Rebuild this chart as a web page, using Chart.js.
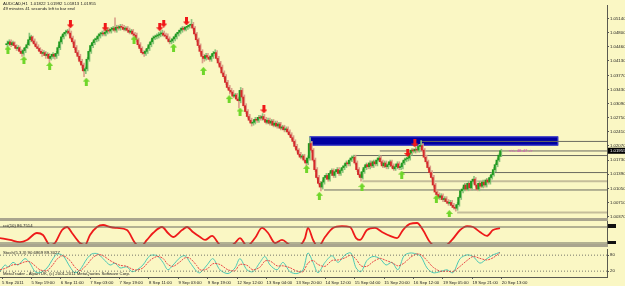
<!DOCTYPE html>
<html>
<head>
<meta charset="utf-8">
<script src="https://cdn.jsdelivr.net/npm/chart.js@4.4.0/dist/chart.umd.min.js"></script>
<style>
html, body { margin: 0; padding: 0; background: #faf7c4; }
#wrap { position: relative; width: 625px; height: 286px; overflow: hidden; background: #faf7c4; }
#wrap canvas { position: absolute; left: 0; }
.sep { position: absolute; left: 0; width: 608px; background: #a9a58e; }
.txt { position: absolute; font-family: 'Liberation Sans', Arial, sans-serif; font-size: 4.3px; line-height: 5px; color: #222; white-space: nowrap; }
</style>
</head>
<body>
<div id="wrap">
  <canvas id="main" width="625" height="222" style="top:0"></canvas>
  <canvas id="cci" width="625" height="28" style="top:219px"></canvas>
  <canvas id="stoch" width="625" height="40" style="top:246px"></canvas>
  <div class="sep" style="top:218px;height:3px"></div>
  <div class="sep" style="top:244px;height:3px"></div>
  <div class="txt" style="left:3px;top:1px">AUDCAD,H1&nbsp; 1.01822 1.01992 1.01813 1.01955</div>
  <div class="txt" style="left:3px;top:6px">49 minutes 41 seconds left to bar end</div>
  <div class="txt" style="left:3px;top:223px">cci(10) 86.7514</div>
  <div class="txt" style="left:3px;top:250px">Stoch(5,3,3) 90.6869 89.3027</div>
  <div class="txt" style="left:3px;top:271px">MetaTrader - Alpari UK, (c) 2001-2011 MetaQuotes Software Corp.</div>
</div>
<script>
// AUDCAD H1, one value per hourly bar, oldest first
const opens = [
  1.0451,1.0453,1.0458,1.0451,1.0456,1.0449,1.0442,1.0444,1.0435,1.0430,
  1.0437,1.0444,1.0451,1.0463,1.0470,1.0460,1.0453,1.0446,1.0442,1.0435,
  1.0430,1.0432,1.0425,1.0428,1.0418,1.0423,1.0428,1.0423,1.0430,1.0444,
  1.0458,1.0470,1.0477,1.0481,1.0484,1.0479,1.0467,1.0458,1.0444,1.0432,
  1.0423,1.0411,1.0402,1.0388,1.0393,1.0416,1.0435,1.0449,1.0456,1.0463,
  1.0465,1.0472,1.0477,1.0479,1.0477,1.0481,1.0486,1.0484,1.0488,1.0491,
  1.0486,1.0493,1.0491,1.0495,1.0493,1.0488,1.0491,1.0486,1.0481,1.0484,
  1.0477,1.0474,1.0463,1.0451,1.0442,1.0432,1.0430,1.0435,1.0442,1.0451,
  1.0458,1.0467,1.0470,1.0472,1.0474,1.0477,1.0479,1.0474,1.0472,1.0465,
  1.0458,1.0460,1.0465,1.0470,1.0477,1.0481,1.0486,1.0491,1.0488,1.0493,
  1.0495,1.0498,1.0500,1.0491,1.0477,1.0463,1.0449,1.0435,1.0423,1.0418,
  1.0425,1.0421,1.0416,1.0423,1.0430,1.0432,1.0418,1.0407,1.0397,1.0383,
  1.0374,1.0360,1.0348,1.0341,1.0337,1.0327,1.0330,1.0320,1.0316,1.0341,
  1.0325,1.0304,1.0290,1.0278,1.0269,1.0262,1.0264,1.0271,1.0269,1.0276,
  1.0274,1.0278,1.0271,1.0264,1.0269,1.0262,1.0267,1.0257,1.0262,1.0255,
  1.0260,1.0250,1.0253,1.0246,1.0248,1.0241,1.0234,1.0227,1.0218,1.0206,
  1.0197,1.0187,1.0180,1.0183,1.0173,1.0166,1.0178,1.0213,1.0197,1.0173,
  1.0150,1.0131,1.0117,1.0108,1.0120,1.0131,1.0136,1.0127,1.0141,1.0148,
  1.0136,1.0145,1.0150,1.0141,1.0148,1.0155,1.0159,1.0166,1.0164,1.0173,
  1.0178,1.0180,1.0166,1.0150,1.0138,1.0131,1.0145,1.0155,1.0162,1.0157,
  1.0166,1.0159,1.0169,1.0164,1.0173,1.0178,1.0169,1.0159,1.0166,1.0157,
  1.0162,1.0169,1.0159,1.0152,1.0157,1.0164,1.0155,1.0157,1.0166,1.0173,
  1.0176,1.0178,1.0190,1.0197,1.0195,1.0199,1.0197,1.0206,1.0208,1.0197,
  1.0180,1.0169,1.0155,1.0143,1.0131,1.0113,1.0096,1.0090,1.0083,1.0087,
  1.0078,1.0080,1.0073,1.0069,1.0071,1.0064,1.0059,1.0057,1.0066,1.0083,
  1.0099,1.0103,1.0113,1.0103,1.0117,1.0106,1.0122,1.0127,1.0113,1.0103,
  1.0117,1.0110,1.0120,1.0113,1.0125,1.0120,1.0131,1.0138,1.0150,1.0162,
  1.0173,1.01822
];
const highs = [
  1.0460,1.0463,1.0463,1.0460,1.0458,1.0451,1.0449,1.0446,1.0439,1.0442,
  1.0446,1.0456,1.0479,1.0474,1.0472,1.0465,1.0458,1.0451,1.0444,1.0439,
  1.0437,1.0435,1.0432,1.0430,1.0428,1.0432,1.0430,1.0435,1.0449,1.0463,
  1.0474,1.0481,1.0486,1.0488,1.0491,1.0484,1.0472,1.0463,1.0449,1.0437,
  1.0428,1.0416,1.0407,1.0397,1.0421,1.0439,1.0453,1.0460,1.0467,1.0470,
  1.0477,1.0481,1.0484,1.0486,1.0486,1.0491,1.0491,1.0493,1.0495,1.0516,
  1.0498,1.0498,1.0500,1.0500,1.0498,1.0495,1.0495,1.0491,1.0488,1.0488,
  1.0481,1.0479,1.0467,1.0456,1.0446,1.0437,1.0439,1.0446,1.0456,1.0463,
  1.0472,1.0474,1.0477,1.0481,1.0484,1.0486,1.0484,1.0479,1.0477,1.0470,
  1.0465,1.0470,1.0474,1.0481,1.0486,1.0491,1.0495,1.0495,1.0495,1.0498,
  1.0500,1.0512,1.0505,1.0495,1.0481,1.0467,1.0453,1.0439,1.0428,1.0430,
  1.0430,1.0425,1.0428,1.0435,1.0439,1.0437,1.0423,1.0411,1.0402,1.0388,
  1.0379,1.0365,1.0353,1.0346,1.0341,1.0334,1.0334,1.0325,1.0348,1.0346,
  1.0330,1.0309,1.0295,1.0283,1.0274,1.0269,1.0276,1.0276,1.0281,1.0281,
  1.0285,1.0283,1.0276,1.0274,1.0274,1.0271,1.0271,1.0267,1.0267,1.0264,
  1.0264,1.0257,1.0257,1.0253,1.0253,1.0246,1.0239,1.0232,1.0222,1.0211,
  1.0201,1.0192,1.0187,1.0187,1.0178,1.0183,1.0227,1.0218,1.0201,1.0178,
  1.0155,1.0136,1.0122,1.0125,1.0136,1.0141,1.0141,1.0145,1.0152,1.0152,
  1.0150,1.0155,1.0155,1.0152,1.0159,1.0164,1.0171,1.0171,1.0178,1.0183,
  1.0185,1.0185,1.0171,1.0155,1.0143,1.0150,1.0159,1.0166,1.0166,1.0171,
  1.0171,1.0173,1.0173,1.0178,1.0185,1.0183,1.0173,1.0171,1.0171,1.0166,
  1.0173,1.0173,1.0164,1.0162,1.0169,1.0169,1.0162,1.0171,1.0178,1.0180,
  1.0180,1.0195,1.0201,1.0201,1.0204,1.0206,1.0211,1.0220,1.0213,1.0201,
  1.0185,1.0173,1.0159,1.0148,1.0136,1.0117,1.0101,1.0094,1.0092,1.0092,
  1.0085,1.0085,1.0078,1.0076,1.0076,1.0069,1.0064,1.0071,1.0087,1.0103,
  1.0108,1.0117,1.0117,1.0122,1.0122,1.0127,1.0134,1.0131,1.0117,1.0122,
  1.0122,1.0125,1.0125,1.0129,1.0129,1.0136,1.0143,1.0155,1.0166,1.0178,
  1.0190,1.01992
];
const lows = [
  1.0446,1.0449,1.0446,1.0449,1.0444,1.0437,1.0437,1.0430,1.0423,1.0425,
  1.0432,1.0442,1.0449,1.0458,1.0456,1.0449,1.0442,1.0437,1.0430,1.0423,
  1.0425,1.0418,1.0421,1.0407,1.0414,1.0418,1.0416,1.0418,1.0425,1.0439,
  1.0453,1.0465,1.0472,1.0477,1.0474,1.0463,1.0453,1.0439,1.0428,1.0416,
  1.0407,1.0395,1.0374,1.0381,1.0388,1.0411,1.0430,1.0444,1.0451,1.0458,
  1.0460,1.0467,1.0472,1.0472,1.0472,1.0477,1.0479,1.0479,1.0484,1.0481,
  1.0481,1.0486,1.0486,1.0488,1.0484,1.0484,1.0481,1.0477,1.0477,1.0472,
  1.0470,1.0458,1.0446,1.0437,1.0428,1.0423,1.0425,1.0430,1.0437,1.0446,
  1.0453,1.0463,1.0465,1.0467,1.0470,1.0472,1.0470,1.0467,1.0460,1.0453,
  1.0453,1.0456,1.0460,1.0465,1.0472,1.0477,1.0481,1.0484,1.0484,1.0488,
  1.0491,1.0493,1.0486,1.0472,1.0458,1.0444,1.0428,1.0407,1.0411,1.0414,
  1.0416,1.0411,1.0411,1.0418,1.0425,1.0414,1.0402,1.0393,1.0379,1.0369,
  1.0355,1.0344,1.0332,1.0332,1.0323,1.0323,1.0316,1.0299,1.0311,1.0320,
  1.0299,1.0285,1.0274,1.0264,1.0255,1.0257,1.0260,1.0264,1.0264,1.0269,
  1.0269,1.0267,1.0260,1.0260,1.0257,1.0257,1.0253,1.0253,1.0250,1.0250,
  1.0246,1.0246,1.0241,1.0241,1.0236,1.0230,1.0222,1.0213,1.0201,1.0192,
  1.0183,1.0176,1.0176,1.0169,1.0159,1.0162,1.0173,1.0192,1.0169,1.0145,
  1.0127,1.0113,1.0099,1.0103,1.0115,1.0127,1.0122,1.0122,1.0136,1.0131,
  1.0131,1.0141,1.0136,1.0136,1.0143,1.0150,1.0155,1.0159,1.0159,1.0169,
  1.0173,1.0162,1.0145,1.0134,1.0122,1.0127,1.0141,1.0150,1.0152,1.0152,
  1.0155,1.0155,1.0159,1.0159,1.0169,1.0164,1.0155,1.0155,1.0152,1.0152,
  1.0157,1.0155,1.0148,1.0148,1.0152,1.0150,1.0150,1.0152,1.0162,1.0169,
  1.0171,1.0173,1.0185,1.0190,1.0190,1.0192,1.0192,1.0199,1.0192,1.0176,
  1.0164,1.0150,1.0138,1.0127,1.0108,1.0090,1.0085,1.0078,1.0078,1.0073,
  1.0073,1.0069,1.0064,1.0064,1.0059,1.0055,1.0050,1.0052,1.0062,1.0078,
  1.0094,1.0099,1.0099,1.0099,1.0101,1.0101,1.0117,1.0108,1.0099,1.0099,
  1.0106,1.0106,1.0108,1.0108,1.0115,1.0115,1.0127,1.0134,1.0145,1.0157,
  1.0169,1.01813
];
const closes = [
  1.0453,1.0458,1.0451,1.0456,1.0449,1.0442,1.0444,1.0435,1.0430,1.0437,
  1.0444,1.0451,1.0463,1.0470,1.0460,1.0453,1.0446,1.0442,1.0435,1.0430,
  1.0432,1.0425,1.0428,1.0418,1.0423,1.0428,1.0423,1.0430,1.0444,1.0458,
  1.0470,1.0477,1.0481,1.0484,1.0479,1.0467,1.0458,1.0444,1.0432,1.0423,
  1.0411,1.0402,1.0388,1.0393,1.0416,1.0435,1.0449,1.0456,1.0463,1.0465,
  1.0472,1.0477,1.0479,1.0477,1.0481,1.0486,1.0484,1.0488,1.0491,1.0486,
  1.0493,1.0491,1.0495,1.0493,1.0488,1.0491,1.0486,1.0481,1.0484,1.0477,
  1.0474,1.0463,1.0451,1.0442,1.0432,1.0430,1.0435,1.0442,1.0451,1.0458,
  1.0467,1.0470,1.0472,1.0474,1.0477,1.0479,1.0474,1.0472,1.0465,1.0458,
  1.0460,1.0465,1.0470,1.0477,1.0481,1.0486,1.0491,1.0488,1.0493,1.0495,
  1.0498,1.0500,1.0491,1.0477,1.0463,1.0449,1.0435,1.0423,1.0418,1.0425,
  1.0421,1.0416,1.0423,1.0430,1.0432,1.0418,1.0407,1.0397,1.0383,1.0374,
  1.0360,1.0348,1.0341,1.0337,1.0327,1.0330,1.0320,1.0316,1.0341,1.0325,
  1.0304,1.0290,1.0278,1.0269,1.0262,1.0264,1.0271,1.0269,1.0276,1.0274,
  1.0278,1.0271,1.0264,1.0269,1.0262,1.0267,1.0257,1.0262,1.0255,1.0260,
  1.0250,1.0253,1.0246,1.0248,1.0241,1.0234,1.0227,1.0218,1.0206,1.0197,
  1.0187,1.0180,1.0183,1.0173,1.0166,1.0178,1.0213,1.0197,1.0173,1.0150,
  1.0131,1.0117,1.0108,1.0120,1.0131,1.0136,1.0127,1.0141,1.0148,1.0136,
  1.0145,1.0150,1.0141,1.0148,1.0155,1.0159,1.0166,1.0164,1.0173,1.0178,
  1.0180,1.0166,1.0150,1.0138,1.0131,1.0145,1.0155,1.0162,1.0157,1.0166,
  1.0159,1.0169,1.0164,1.0173,1.0178,1.0169,1.0159,1.0166,1.0157,1.0162,
  1.0169,1.0159,1.0152,1.0157,1.0164,1.0155,1.0157,1.0166,1.0173,1.0176,
  1.0178,1.0190,1.0197,1.0195,1.0199,1.0197,1.0206,1.0208,1.0197,1.0180,
  1.0169,1.0155,1.0143,1.0131,1.0113,1.0096,1.0090,1.0083,1.0087,1.0078,
  1.0080,1.0073,1.0069,1.0071,1.0064,1.0059,1.0057,1.0066,1.0083,1.0099,
  1.0103,1.0113,1.0103,1.0117,1.0106,1.0122,1.0127,1.0113,1.0103,1.0117,
  1.0110,1.0120,1.0113,1.0125,1.0120,1.0131,1.0138,1.0150,1.0162,1.0173,
  1.0185,1.01955
];

const priceTicks = [1.05140, 1.04800, 1.04460, 1.04130, 1.03770, 1.03430, 1.03090, 1.02750,
                    1.02410, 1.02070, 1.01730, 1.01390, 1.01050, 1.00710, 1.00370];
const timeLabels = ['5 Sep 2011', '5 Sep 19:00', '6 Sep 11:00', '7 Sep 03:00', '7 Sep 19:00', '8 Sep 11:00',
                    '9 Sep 03:00', '9 Sep 19:00', '12 Sep 12:00', '13 Sep 04:00', '13 Sep 20:00', '14 Sep 12:00',
                    '15 Sep 04:00', '15 Sep 20:00', '16 Sep 12:00', '19 Sep 05:00', '19 Sep 21:00', '20 Sep 13:00'];
const timeLabelBars = [0, 16, 32, 48, 64, 80, 96, 112, 128, 144, 160, 176, 192, 208, 224, 240, 256, 272];

// signal arrows
const upArrowBars = [0.5, 9.3, 23.4, 43.5, 69.7, 91.4, 107.8, 121.9, 127.9, 164.4, 171.4, 194.8, 216.6, 235.6, 242.7];
const upArrowPrices = [1.0439, 1.0414, 1.0400, 1.0362, 1.0463, 1.0444, 1.0388, 1.0320, 1.0290, 1.0152, 1.0087, 1.0108, 1.0138, 1.0080, 1.0043];
const downArrowBars = [34.8, 53.9, 83.8, 86.0, 98.5, 141.0, 219.9, 223.8];
const downArrowPrices = [1.0500, 1.0493, 1.0493, 1.0502, 1.0507, 1.0295, 1.0190, 1.0213];

// support / resistance lines and the zone
const levelStarts = [227.5, 204.6, 190, 216.6, 195, 174, 247];
const levelPrices = [1.0218, 1.0195, 1.0184, 1.0143, 1.0122, 1.0101, 1.0047];
const zoneBars = [166, 302.5];
const zonePrices = [1.0208, 1.0230];

// CCI(10)
const cciBars = [-1.1, 4.4, 9.8, 13.6, 19, 22.3, 26.1, 28.8, 32.7, 35.4, 38.1, 42.4, 45.2, 47.9, 51.7, 55, 58.8, 62.6, 68, 72.4,
                 75.1, 78.9, 82.2, 87.1, 90.3, 93.1, 98, 100.7, 103.9, 107.8, 110.5, 114.3, 118.6, 123, 126.8, 129.5, 133.3, 137.7, 141.5, 144.8,
                 148.6, 152.4, 156.7, 161.1, 164.9, 166.5, 169.3, 172, 175.8, 180.1, 185, 189.4, 192.7, 194.8, 198.6, 203, 206.8, 211.2, 215, 218.2,
                 222, 225.9, 229.1, 232.9, 236.7, 241.1, 244.9, 249.3, 253.1, 256.4, 260.1, 263.9, 267.2, 271];
const cciValues = [-38, -62, -88, -62, 25, 0, -125, -100, 62, 100, 25, -100, -125, 0, 100, 125, 100, 88, 62, -100,
                   -150, -62, 25, 100, 25, -25, 62, 100, 38, -25, -62, -12, -125, -150, -100, -38, -138, -38, 88, 25,
                   -100, -62, -125, -138, -38, 88, -62, -150, -25, 88, 112, 100, -38, -62, 62, 88, 38, -12, -38, 62,
                   138, 150, 62, -88, -150, -138, -62, 62, 112, 100, 38, -12, 62, 86.75];

// Stochastic(5,3,3)
const stochBars = [-1.1, 1.6, 3.3, 6, 8.7, 12.5, 15.2, 18, 20.7, 24.5, 27.8, 29.9, 33.2, 37, 39.7, 42.4, 46.3, 49, 52.2, 55,
                   58.8, 61.5, 64.2, 68, 70.7, 73.5, 76.7, 80.5, 84.4, 87.6, 90.3, 93.1, 96.9, 99.6, 102.3, 106.1, 107.8, 111.6, 114.8, 118.6,
                   123, 126.8, 129.5, 133.3, 136.6, 140.4, 143.1, 145.9, 149.7, 152.9, 156.7, 160.5, 163.8, 166.5, 169.3, 172, 175.8, 179.6, 182.9, 186.7,
                   189.9, 192.7, 195.4, 198.6, 201.9, 205.7, 209, 212.2, 215.5, 218.8, 222, 225.3, 228, 231.3, 234.6, 238.4, 242.2, 245.4, 249.3, 253.1,
                   256.4, 260.1, 263.9, 267.2, 271];
const stochMain = [18, 43, 36, 53, 43, 67, 50, 18, 14, 32, 67, 85, 78, 36, 14, 25, 67, 85, 85, 67,
                   43, 50, 32, 36, 18, 25, 43, 78, 78, 53, 25, 43, 71, 78, 53, 18, 14, 43, 67, 25,
                   11, 32, 67, 25, 18, 53, 75, 43, 25, 53, 18, 11, 25, 88, 53, 14, 53, 78, 53, 81,
                   88, 32, 18, 60, 75, 67, 43, 53, 25, 78, 88, 85, 75, 32, 14, 18, 25, 14, 67, 81,
                   75, 50, 67, 81, 90.69];
const stochSignal = [25, 30, 35, 44, 45, 55, 55, 40, 25, 22, 45, 65, 78, 60, 35, 22, 45, 68, 82, 78,
                     60, 50, 42, 38, 28, 24, 32, 60, 75, 68, 45, 38, 55, 70, 68, 40, 25, 28, 48, 45,
                     25, 22, 45, 42, 25, 35, 58, 58, 40, 40, 33, 20, 18, 50, 60, 45, 38, 60, 62, 70,
                     80, 65, 40, 38, 55, 68, 60, 52, 40, 50, 70, 84, 82, 60, 35, 20, 20, 18, 38, 60,
                     75, 68, 62, 70, 89.30];

const X_MIN = -1.09, X_MAX = 329.26;

function arrowImage(color, up) {
    const c = document.createElement('canvas');
    c.width = 7; c.height = 8;
    const g = c.getContext('2d');
    g.fillStyle = color;
    g.beginPath();
    if (up) {
        g.moveTo(3.5, 0); g.lineTo(7, 4); g.lineTo(5, 4); g.lineTo(5, 8); g.lineTo(2, 8); g.lineTo(2, 4); g.lineTo(0, 4);
    } else {
        g.moveTo(3.5, 8); g.lineTo(7, 4); g.lineTo(5, 4); g.lineTo(5, 0); g.lineTo(2, 0); g.lineTo(2, 4); g.lineTo(0, 4);
    }
    g.closePath();
    g.fill();
    return c;
}

// zone rectangle and bid label, drawn through the chart's own scales
const zonePlugin = {
    id: 'zone',
    beforeDatasetsDraw(chart) {
        const {ctx, scales: {x, y}} = chart;
        const x1 = x.getPixelForValue(zoneBars[0]), x2 = x.getPixelForValue(zoneBars[1]);
        const y1 = y.getPixelForValue(zonePrices[1]), y2 = y.getPixelForValue(zonePrices[0]);
        ctx.save();
        ctx.fillStyle = '#0000a0';
        ctx.fillRect(x1, y1, x2 - x1, y2 - y1);
        ctx.strokeStyle = '#3a3ad0';
        ctx.lineWidth = 1;
        ctx.strokeRect(x1 + 0.5, y1 + 0.5, x2 - x1 - 1, y2 - y1 - 1);
        ctx.restore();
    },
    afterDraw(chart) {
        const {ctx, chartArea, scales: {y}} = chart;
        const last = closes[closes.length - 1];
        const py = y.getPixelForValue(last);
        ctx.save();
        ctx.fillStyle = '#000';
        ctx.fillRect(chartArea.right + 1, py - 3, 17, 6);
        ctx.fillStyle = '#fff';
        ctx.font = '4.3px "Liberation Sans", Arial';
        ctx.textBaseline = 'middle';
        ctx.fillText(last.toFixed(5), chartArea.right + 3, py + 0.3);
        ctx.fillStyle = '#e040c0';
        ctx.fillText('<<- 48.47 ->', chart.scales.x.getPixelForValue(275.5), py);
        ctx.restore();
    }
};

const bull = '#1f9a1f', bear = '#d42a2a';
const datasets = [];

levelPrices.forEach((p, i) => {
    const pale = i === 4 || i === 6;
    datasets.push({
        type: 'line',
        data: [{x: levelStarts[i], y: p}, {x: X_MAX, y: p}],
        borderColor: pale ? '#c4bd9a' : '#6a6a60',
        borderWidth: pale ? 2 : 1,
        pointRadius: 0,
        order: 5
    });
});

datasets.push({
    type: 'bar',
    data: highs.map((h, i) => ({x: i, y: [lows[i], h]})),
    backgroundColor: closes.map((c, i) => c >= opens[i] ? '#8cc47c' : '#dba08a'),
    barThickness: 1,
    order: 3
});
datasets.push({
    type: 'bar',
    data: opens.map((o, i) => ({x: i, y: [o, closes[i]]})),
    backgroundColor: closes.map((c, i) => c >= opens[i] ? bull : bear),
    barThickness: 1.3,
    minBarLength: 1,
    order: 2
});
datasets.push({
    type: 'scatter',
    data: upArrowBars.map((b, i) => ({x: b, y: upArrowPrices[i]})),
    pointStyle: arrowImage('#6fd62a', true),
    order: 1
});
datasets.push({
    type: 'scatter',
    data: downArrowBars.map((b, i) => ({x: b, y: downArrowPrices[i]})),
    pointStyle: arrowImage('#f01818', false),
    order: 1
});

const noUi = {legend: {display: false}, tooltip: {enabled: false}};
const fontTiny = {family: "'Liberation Sans', Arial, sans-serif", size: 4.3};

new Chart(document.getElementById('main'), {
    data: {datasets},
    options: {
        animation: false, responsive: false,
        layout: {padding: {top: 0, bottom: 3, left: 0, right: 0}},
        plugins: noUi,
        scales: {
            x: {type: 'linear', min: X_MIN, max: X_MAX, display: false, offset: false, grid: {offset: false}},
            y: {
                position: 'right', min: 1.00359, max: 1.05467,
                afterBuildTicks: s => { s.ticks = priceTicks.map(v => ({value: v})); },
                afterFit: s => { s.width = 18; },
                grid: {drawOnChartArea: false, tickLength: 2, color: '#555'},
                border: {color: '#5a5a50'},
                ticks: {font: fontTiny, color: '#222', padding: 1, autoSkip: false, callback: v => v.toFixed(5)}
            }
        }
    },
    plugins: [zonePlugin]
});

// CCI window
const cciLevelPlugin = {
    id: 'cciLevels',
    afterDraw(chart) {
        const {ctx, chartArea} = chart;
        ctx.save();
        ctx.fillStyle = '#111';
        ctx.fillRect(chartArea.right + 1, 5, 8, 4);
        ctx.fillRect(chartArea.right + 1, 22, 8, 3);
        ctx.restore();
    }
};
new Chart(document.getElementById('cci'), {
    data: {datasets: [
        {type: 'line', data: [{x: X_MIN, y: 100}, {x: X_MAX, y: 100}], borderColor: '#6a6a60', borderWidth: 1, pointRadius: 0},
        {type: 'line', data: [{x: X_MIN, y: -100}, {x: X_MAX, y: -100}], borderColor: '#6a6a60', borderWidth: 1, pointRadius: 0},
        {type: 'line', data: cciBars.map((b, i) => ({x: b, y: cciValues[i]})), borderColor: '#ee1a1a', borderWidth: 1.8,
         pointRadius: 0, cubicInterpolationMode: 'monotone'}
    ]},
    options: {
        animation: false, responsive: false,
        layout: {padding: {top: 2, bottom: 3}},
        plugins: noUi,
        scales: {
            x: {type: 'linear', min: X_MIN, max: X_MAX, display: false, offset: false},
            y: {position: 'right', min: -112.5, max: 175, afterFit: s => { s.width = 18; },
                grid: {drawOnChartArea: false, drawTicks: false}, border: {color: '#5a5a50'}, ticks: {display: false}}
        }
    },
    plugins: [cciLevelPlugin]
});

// Stochastic window with the time axis
new Chart(document.getElementById('stoch'), {
    data: {datasets: [
        {type: 'line', data: [{x: X_MIN, y: 80}, {x: X_MAX, y: 80}], borderColor: '#77776a', borderWidth: 1, borderDash: [1, 2], pointRadius: 0},
        {type: 'line', data: [{x: X_MIN, y: 20}, {x: X_MAX, y: 20}], borderColor: '#77776a', borderWidth: 1, borderDash: [1, 2], pointRadius: 0},
        {type: 'line', data: stochBars.map((b, i) => ({x: b, y: stochSignal[i]})), borderColor: '#e84848', borderWidth: 1,
         borderDash: [2, 1], pointRadius: 0, tension: 0.3},
        {type: 'line', data: stochBars.map((b, i) => ({x: b, y: stochMain[i]})), borderColor: '#4cc8b4', borderWidth: 1,
         pointRadius: 0, tension: 0.3}
    ]},
    options: {
        animation: false, responsive: false,
        layout: {padding: {top: 2, bottom: 0}},
        plugins: noUi,
        scales: {
            x: {
                type: 'linear', min: X_MIN, max: X_MAX, offset: false,
                afterBuildTicks: s => { s.ticks = timeLabelBars.map(v => ({value: v})); },
                afterFit: s => { s.height = 9; },
                grid: {drawOnChartArea: false, tickLength: 2, color: '#555'},
                border: {color: '#5a5a50'},
                ticks: {font: fontTiny, color: '#222', padding: 1, autoSkip: false, maxRotation: 0, align: 'start',
                        callback: (v) => timeLabels[timeLabelBars.indexOf(v)]}
            },
            y: {
                position: 'right', min: -2, max: 101,
                afterBuildTicks: s => { s.ticks = [{value: 80}, {value: 20}]; },
                afterFit: s => { s.width = 18; },
                grid: {drawOnChartArea: false, tickLength: 2, color: '#555'},
                border: {color: '#5a5a50'},
                ticks: {font: fontTiny, color: '#222', padding: 1, autoSkip: false}
            }
        }
    }
});
</script>
</body>
</html>
